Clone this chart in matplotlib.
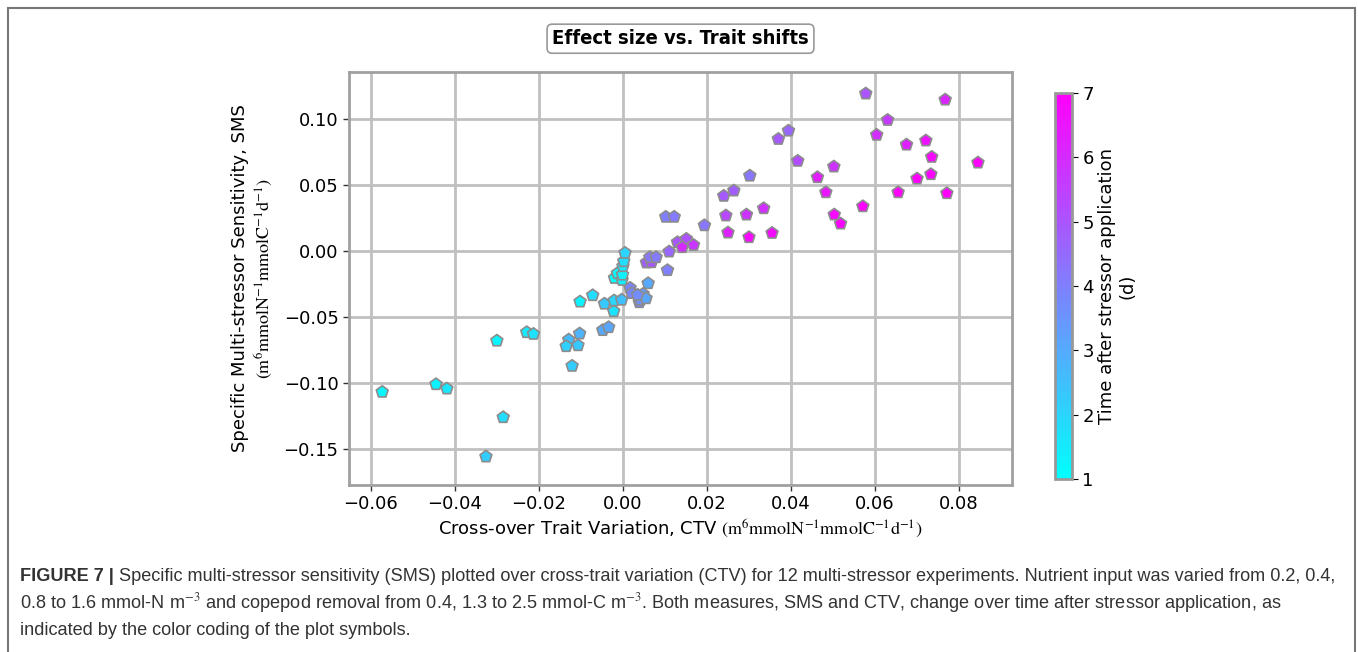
import numpy as np
import matplotlib as mpl
mpl.use('Agg')
import matplotlib.pyplot as plt
from matplotlib.patches import Rectangle

plt.rcParams['mathtext.fontset'] = 'stix'

# CTV (x), SMS (y), time after stressor application (d)
ctv = [-0.0573, -0.0445, -0.0419, -0.0285, -0.0326, -0.0300, -0.0229, -0.0213,
       -0.0121, -0.0129, -0.0135, -0.0107, -0.0103, -0.0102, -0.0072, -0.0048,
       -0.0034, -0.0044, -0.0022, -0.0021, -0.0003, -0.0020, -0.0013, -0.0002,
       -0.0001, 0.0000, 0.0002, 0.0005,
       0.0060, 0.0017, 0.0021, 0.0039, 0.0042, 0.0048, 0.0055, 0.0035,
       0.0056, 0.0068, 0.0064, 0.0079, 0.0106, 0.0110, 0.0102, 0.0122,
       0.0130, 0.0151, 0.0141, 0.0168, 0.0194, 0.0302, 0.0240, 0.0264,
       0.0245, 0.0250, 0.0294, 0.0300, 0.0335, 0.0355, 0.0370, 0.0394,
       0.0416, 0.0463, 0.0502, 0.0483, 0.0503, 0.0518, 0.0571, 0.0578,
       0.0630, 0.0604, 0.0675, 0.0721, 0.0735, 0.0700, 0.0733, 0.0655,
       0.0771, 0.0767, 0.0845]
sms = [-0.1068, -0.1010, -0.1043, -0.1260, -0.1558, -0.0680, -0.0616, -0.0629,
       -0.0871, -0.0672, -0.0722, -0.0715, -0.0626, -0.0384, -0.0336, -0.0600,
       -0.0578, -0.0400, -0.0457, -0.0376, -0.0370, -0.0205, -0.0169, -0.0220,
       -0.0180, -0.0116, -0.0078, -0.0015,
       -0.0245, -0.0280, -0.0320, -0.0389, -0.0370, -0.0326, -0.0359, -0.0333,
       -0.0088, -0.0086, -0.0048, -0.0048, -0.0146, -0.0005, 0.0258, 0.0258,
       0.0066, 0.0091, 0.0028, 0.0045, 0.0194, 0.0570, 0.0417, 0.0457,
       0.0268, 0.0139, 0.0275, 0.0104, 0.0323, 0.0136, 0.0848, 0.0911,
       0.0682, 0.0558, 0.0639, 0.0444, 0.0275, 0.0207, 0.0338, 0.1192,
       0.0992, 0.0879, 0.0805, 0.0836, 0.0712, 0.0548, 0.0581, 0.0444,
       0.0437, 0.1146, 0.0669]
days = [1.2, 1.3, 1.6, 1.8, 2.2, 1.2, 1.5, 1.7,
        2.2, 2.6, 2.1, 2.3, 2.8, 1.3, 1.8, 3.0,
        3.1, 2.3, 1.7, 2.0, 2.5, 1.0, 1.2, 1.4,
        1.3, 1.6, 1.8, 2.0,
        3.0, 3.9, 3.8, 3.9, 3.6, 3.4, 3.1, 3.7,
        4.8, 5.0, 4.2, 4.1, 4.0, 4.6, 4.0, 4.1,
        5.0, 5.1, 6.0, 5.7, 4.2, 4.2, 4.9, 4.8,
        5.3, 6.2, 5.8, 6.8, 5.9, 6.7, 4.9, 4.6,
        5.2, 6.3, 5.8, 6.5, 6.8, 6.9, 6.9, 5.0,
        5.6, 5.9, 6.2, 6.6, 6.8, 7.0, 6.9, 7.0,
        7.0, 6.1, 7.0]

xticks = [-0.06, -0.04, -0.02, 0.00, 0.02, 0.04, 0.06, 0.08]
yticks = [-0.15, -0.10, -0.05, 0.00, 0.05, 0.10]
cticks = [1, 2, 3, 4, 5, 6, 7]

def fmt(v):
    return ('%.2f' % v).replace('-', '\u2212')

fig = plt.figure(figsize=(13.58, 6.52), dpi=100)
ax = fig.add_axes([0.257, 0.2561, 0.4882, 0.6335])
cax = fig.add_axes([0.7769, 0.2653, 0.0125, 0.592])

sc = ax.scatter(ctv, sms, c=days, cmap='cool', vmin=1, vmax=7, marker='p', s=80,
                edgecolors='#8c8c8c', linewidths=1.2, zorder=3)

ax.set_xlim(-0.0652, 0.0926)
ax.set_ylim(-0.1773, 0.1356)
ax.set_xticks(xticks)
ax.set_yticks(yticks)
ax.set_xticklabels([fmt(v) for v in xticks])
ax.set_yticklabels([fmt(v) for v in yticks])
ax.tick_params(labelsize=13, length=4, width=1, color='#333333')
ax.grid(True, color='#c0c0c0', linewidth=2)
ax.set_axisbelow(True)
for sp in ax.spines.values():
    sp.set_color('#a0a0a0')
    sp.set_linewidth(2)

ax.set_xlabel(r'Cross-over Trait Variation, CTV $(\mathrm{m^{6}mmolN^{-1}mmolC^{-1}d^{-1}})$',
              fontsize=13, labelpad=3)
ax.text(-0.164, 0.5, 'Specific Multi-stressor Sensitivity, SMS', transform=ax.transAxes,
        rotation=90, ha='center', va='center', fontsize=13)
ax.text(-0.129, 0.5, r'$(\mathrm{m^{6}mmolN^{-1}mmolC^{-1}d^{-1}})$', transform=ax.transAxes,
        rotation=90, ha='center', va='center', fontsize=13)

ax.set_title('Effect size vs. Trait shifts', fontsize=14.5, fontweight='bold',
             fontstretch='condensed', pad=20,
             bbox=dict(boxstyle='round,pad=0.25', fc='white', ec='#999999', lw=1.2))

cb = fig.colorbar(sc, cax=cax, ticks=cticks)
cb.outline.set_edgecolor('#999999')
cb.outline.set_linewidth(2)
cax.tick_params(labelsize=13, length=4)
cb.set_label('Time after stressor application\n(d)', fontsize=13, labelpad=3)

# outer frame
fig.add_artist(Rectangle((8 / 1358, -0.05), 1347 / 1358, 1 - 8 / 652 + 0.05,
                         transform=fig.transFigure, fill=False, ec='#777777', lw=1.5))

cap_kw = dict(fontsize=13.1, family='Liberation Sans', color='#333333')
t0 = fig.text(20 / 1358, 1 - 581 / 652, 'FIGURE 7 |', fontweight='bold', va='baseline', **cap_kw)
ax.annotate(' Specific multi-stressor sensitivity (SMS) plotted over cross-trait variation (CTV) '
            'for 12 multi-stressor experiments. Nutrient input was varied from 0.2, 0.4,',
            xy=(1, 0), xycoords=t0, va='bottom', annotation_clip=False, **cap_kw)
fig.text(20 / 1358, 1 - 608 / 652,
         r'0.8 to 1.6 mmol-N m$^{-3}$ and copepod removal from 0.4, 1.3 to 2.5 mmol-C m$^{-3}$. '
         'Both measures, SMS and CTV, change over time after stressor application, as',
         va='baseline', **cap_kw)
fig.text(20 / 1358, 1 - 635 / 652, 'indicated by the color coding of the plot symbols.',
         va='baseline', **cap_kw)

fig.savefig('out.png', dpi=100)
